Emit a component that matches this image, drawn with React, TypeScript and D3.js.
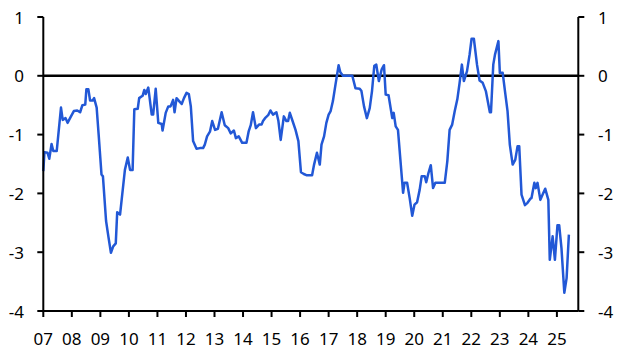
import React from "react";
import * as d3 from "d3";

const dates: number[] = [
  2007.0, 2007.04, 2007.15, 2007.21, 2007.29, 2007.35, 2007.47, 2007.62, 2007.68, 2007.78,
  2007.85, 2007.97, 2008.07, 2008.19, 2008.29, 2008.37, 2008.47, 2008.51, 2008.58, 2008.64,
  2008.73, 2008.78, 2008.87, 2008.94, 2009.04, 2009.09, 2009.2, 2009.28, 2009.37, 2009.45,
  2009.54, 2009.59, 2009.69, 2009.86, 2009.96, 2010.04, 2010.13, 2010.19, 2010.31, 2010.36,
  2010.48, 2010.54, 2010.59, 2010.68, 2010.8, 2010.85, 2010.94, 2011.03, 2011.15, 2011.18,
  2011.29, 2011.38, 2011.46, 2011.55, 2011.6, 2011.67, 2011.76, 2011.85, 2011.93, 2012.02,
  2012.1, 2012.17, 2012.25, 2012.37, 2012.49, 2012.6, 2012.66, 2012.74, 2012.84, 2012.92,
  2013.02, 2013.12, 2013.25, 2013.36, 2013.48, 2013.57, 2013.68, 2013.75, 2013.85, 2013.97,
  2014.12, 2014.2, 2014.27, 2014.35, 2014.45, 2014.56, 2014.65, 2014.7, 2014.79, 2014.88,
  2014.96, 2015.05, 2015.17, 2015.24, 2015.32, 2015.43, 2015.52, 2015.58, 2015.64, 2015.73,
  2015.84, 2015.94, 2016.03, 2016.13, 2016.22, 2016.42, 2016.49, 2016.59, 2016.69, 2016.75,
  2016.84, 2016.92, 2017.0, 2017.07, 2017.15, 2017.24, 2017.35, 2017.41, 2017.5, 2017.83,
  2017.94, 2018.09, 2018.15, 2018.24, 2018.34, 2018.44, 2018.52, 2018.6, 2018.67, 2018.76,
  2018.86, 2018.94, 2019.0, 2019.1, 2019.23, 2019.28, 2019.35, 2019.43, 2019.51, 2019.61,
  2019.66, 2019.75, 2019.84, 2019.93, 2020.01, 2020.1, 2020.19, 2020.26, 2020.37, 2020.42,
  2020.5, 2020.58, 2020.66, 2020.74, 2021.07, 2021.16, 2021.24, 2021.33, 2021.42, 2021.51,
  2021.59, 2021.67, 2021.74, 2021.85, 2021.94, 2022.01, 2022.09, 2022.2, 2022.29, 2022.4,
  2022.51, 2022.65, 2022.69, 2022.77, 2022.83, 2022.95, 2023.0, 2023.1, 2023.18, 2023.27,
  2023.35, 2023.45, 2023.54, 2023.62, 2023.68, 2023.76, 2023.88, 2023.97, 2024.07, 2024.11,
  2024.21, 2024.26, 2024.32, 2024.42, 2024.5, 2024.59, 2024.7, 2024.75, 2024.85, 2024.93,
  2025.02, 2025.08, 2025.16, 2025.26, 2025.34, 2025.42,
];

const values: number[] = [
  -1.62, -1.3, -1.31, -1.41, -1.16, -1.28, -1.28, -0.54, -0.75, -0.72,
  -0.8, -0.69, -0.6, -0.59, -0.62, -0.5, -0.49, -0.23, -0.23, -0.42,
  -0.42, -0.38, -0.54, -1.0, -1.68, -1.71, -2.47, -2.73, -3.01, -2.9,
  -2.85, -2.32, -2.36, -1.6, -1.39, -1.6, -1.6, -0.57, -0.56, -0.38,
  -0.34, -0.24, -0.31, -0.2, -0.66, -0.66, -0.22, -0.8, -0.82, -0.93,
  -0.63, -0.52, -0.52, -0.41, -0.62, -0.38, -0.43, -0.48, -0.38, -0.29,
  -0.31, -0.52, -1.11, -1.24, -1.23, -1.23, -1.17, -1.03, -0.95, -0.77,
  -0.92, -0.9, -0.62, -0.84, -0.89, -0.98, -0.93, -1.06, -1.03, -1.14,
  -1.14, -0.94, -0.84, -0.62, -0.89, -0.83, -0.83, -0.77, -0.71, -0.67,
  -0.59, -0.66, -0.62, -0.77, -1.09, -0.69, -0.77, -0.77, -0.63, -0.76,
  -0.92, -1.11, -1.64, -1.67, -1.69, -1.69, -1.51, -1.31, -1.51, -1.17,
  -1.03, -0.8, -0.66, -0.6, -0.43, -0.15, 0.18, 0.06, 0.0, 0.0,
  -0.21, -0.22, -0.26, -0.52, -0.72, -0.55, -0.26, 0.17, 0.19, -0.09,
  0.11, 0.18, -0.32, -0.33, -0.72, -0.63, -0.86, -0.92, -1.4, -1.99,
  -1.82, -1.82, -2.08, -2.38, -2.19, -2.15, -1.94, -1.71, -1.71, -1.81,
  -1.65, -1.52, -1.91, -1.82, -1.82, -1.45, -0.92, -0.83, -0.6, -0.4,
  -0.12, 0.19, -0.09, 0.08, 0.36, 0.63, 0.63, 0.19, -0.08, -0.12,
  -0.26, -0.62, -0.62, 0.19, 0.36, 0.59, 0.05, 0.05, -0.26, -0.6,
  -1.17, -1.51, -1.43, -1.2, -1.2, -2.02, -2.2, -2.16, -2.09, -2.08,
  -1.82, -1.91, -1.82, -2.11, -2.02, -1.92, -2.11, -3.13, -2.73, -3.13,
  -2.54, -2.54, -2.93, -3.69, -3.44, -2.7,
];

const yTicks: number[] = [1, 0, -1, -2, -3, -4];
const xTickYears: number[] = [2007, 2008, 2009, 2010, 2011, 2012, 2013, 2014, 2015, 2016, 2017, 2018, 2019, 2020, 2021, 2022, 2023, 2024, 2025];
const xTickLabels: string[] = ["07", "08", "09", "10", "11", "12", "13", "14", "15", "16", "17", "18", "19", "20", "21", "22", "23", "24", "25"];

export default function App() {
  const W = 630;
  const H = 356;
  const left = 43.3;
  const right = 578.3;
  const top = 17;
  const bottom = 311;
  const x = d3.scaleLinear().domain([2007, 2025.75]).range([left, right]);
  const y = d3.scaleLinear().domain([-4, 1]).range([bottom, top]);
  const pts: [number, number][] = dates.map((d, i) => [d, values[i]]);
  const line = d3
    .line<[number, number]>()
    .x((d) => x(d[0]))
    .y((d) => y(d[1]));
  const font = "'Noto Sans', 'Open Sans', sans-serif";
  const fs = 17;
  return (
    <svg
      width={W}
      height={H}
      style={{ position: "absolute", left: 0, top: 0, background: "#fff" }}
      fontFamily={font}
    >
      <rect x={0} y={0} width={W} height={H} fill="#fff" />
      {/* zero line */}
      <line x1={left} x2={right} y1={y(0)} y2={y(0)} stroke="#000" strokeWidth={2.5} />
      {/* data line */}
      <path d={line(pts) || ""} fill="none" stroke="#2258d6" strokeWidth={2.5} strokeLinejoin="round" />
      {/* axes */}
      <line x1={left} x2={left} y1={top} y2={bottom} stroke="#000" strokeWidth={2} />
      <line x1={right} x2={right} y1={top} y2={bottom} stroke="#000" strokeWidth={2} />
      <line x1={left} x2={right} y1={bottom} y2={bottom} stroke="#000" strokeWidth={2} />
      {yTicks.map((t) => (
        <g key={"y" + t}>
          <line x1={left - 6} x2={left} y1={y(t)} y2={y(t)} stroke="#000" strokeWidth={2} />
          <line x1={right} x2={right + 6} y1={y(t)} y2={y(t)} stroke="#000" strokeWidth={2} />
          <text x={24} y={y(t)} textAnchor="end" dominantBaseline="central" fontSize={fs} fill="#000">
            {t < 0 ? "-" + Math.abs(t) : String(t)}
          </text>
          <text x={598} y={y(t)} textAnchor="start" dominantBaseline="central" fontSize={fs} fill="#000">
            {t < 0 ? "-" + Math.abs(t) : String(t)}
          </text>
        </g>
      ))}
      {xTickYears.map((yr, i) => (
        <g key={"x" + yr}>
          <line x1={x(yr)} x2={x(yr)} y1={bottom} y2={bottom + 6} stroke="#000" strokeWidth={2} />
          <text x={x(yr)} y={338} textAnchor="middle" dominantBaseline="central" fontSize={fs} fill="#000">
            {xTickLabels[i]}
          </text>
        </g>
      ))}
    </svg>
  );
}
